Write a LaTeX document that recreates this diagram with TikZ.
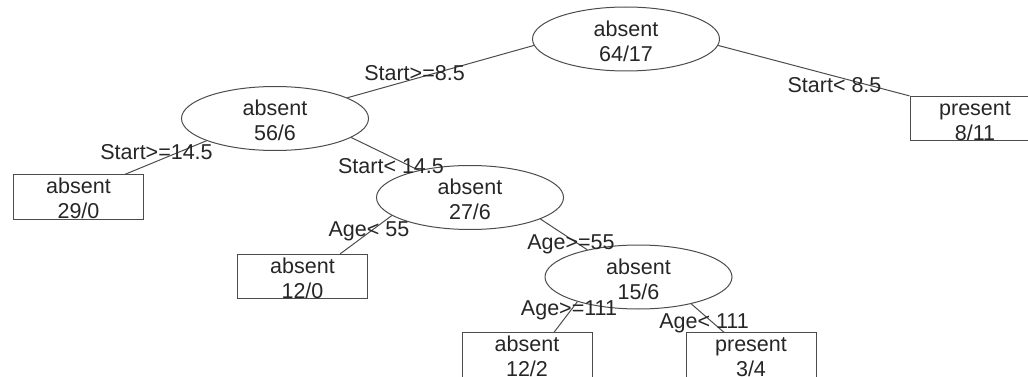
\documentclass[tikz,border=0pt]{standalone}
\usepackage{fontspec}
\setmainfont{Liberation Sans}
\usetikzlibrary{shapes.geometric}
\begin{document}
\begin{tikzpicture}[x=1pt,y=-1pt,
  every node/.style={font=\fontsize{21.5}{25}\selectfont, text=black!85},
  splitnode/.style={ellipse, draw=black!70, line width=1pt, minimum width=187pt,
    minimum height=64pt, inner sep=0pt, align=center},
  leafnode/.style={rectangle, draw=black!70, line width=1pt, minimum width=130pt,
    minimum height=44pt, inner sep=0pt, align=center},
  condlabel/.style={anchor=base, inner sep=0pt},
  branch/.style={draw=black!70, line width=1pt}]
\path[use as bounding box, clip] (0,0) rectangle (1028,377);
% split nodes
\node[splitnode] (root) at (626,39)    {\rule{0pt}{20pt}absent\\64/17};
\node[splitnode] (n56)  at (275,118.5) {\rule{0pt}{20pt}absent\\56/6};
\node[splitnode] (n27)  at (470,197.5) {\rule{0pt}{20pt}absent\\27/6};
\node[splitnode] (n15)  at (638.5,277) {\rule{0pt}{20pt}absent\\15/6};
% leaves
\node[leafnode] (l811) at (975,118.5) {\rule{0pt}{19pt}present\\8/11};
\node[leafnode] (l290) at (78.5,197)  {\rule{0pt}{19pt}absent\\29/0};
\node[leafnode] (l120) at (302.5,276.5) {\rule{0pt}{19pt}absent\\12/0};
\node[leafnode] (l122) at (527,355)   {\rule{0pt}{19pt}absent\\12/2};
\node[leafnode] (l34)  at (751,355)   {\rule{0pt}{19pt}present\\3/4};
% branches
\draw[branch] (root.184) -- (n56.16);
\draw[branch] (root.-4) -- (l811.north west);
\draw[branch] (n56.198) -- (l290.26);
\draw[branch] (n56.-14) -- (n27.152);
\draw[branch] (n27.193) -- (l120.31);
\draw[branch] (n27.-17) -- (n15.152);
\draw[branch] (n15.202) -- (l122.40);
\draw[branch] (n15.-27) -- (l34.140);
% split labels
\node[condlabel] (c1) at (414.5,81) {Start>=8.5};
\node[condlabel] (c2) at (834.5,93) {Start< 8.5};
\node[condlabel] (c3) at (156.5,160) {Start>=14.5};
\node[condlabel] (c4) at (391,173.5) {Start< 14.5};
\node[condlabel] (c5) at (369,236) {Age< 55};
\node[condlabel] (c6) at (571,249) {Age>=55};
\node[condlabel] (c7) at (569,315) {Age>=111};
\node[condlabel] (c8) at (704,328) {Age< 111};
\end{tikzpicture}
\end{document}
